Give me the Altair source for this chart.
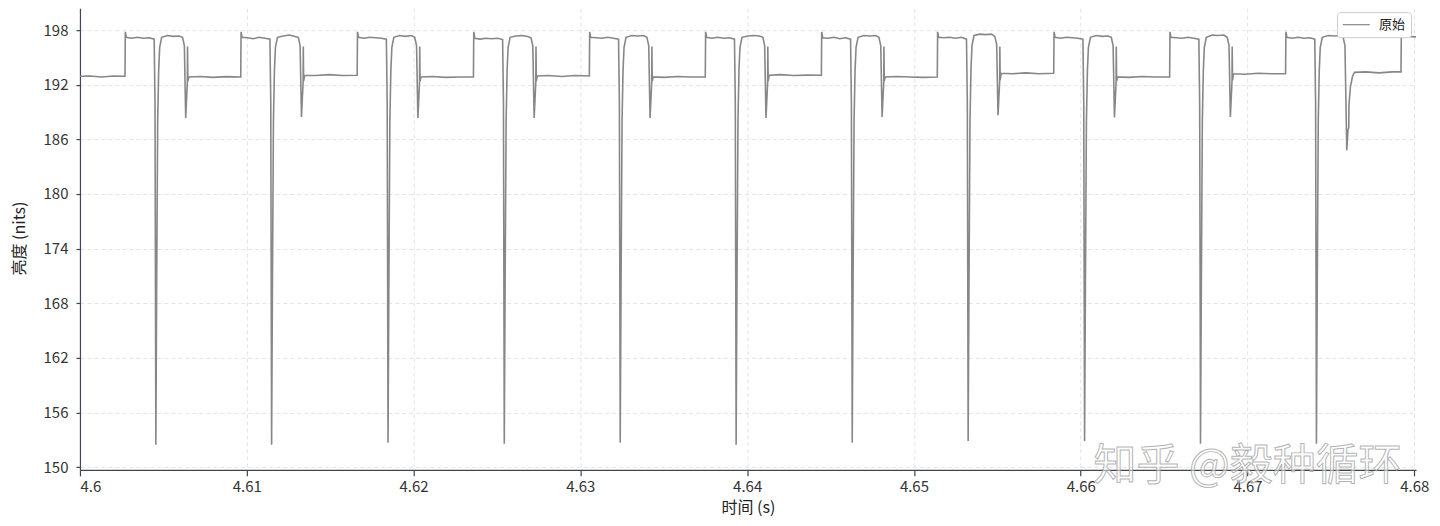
import altair as alt
import pandas as pd

series_name = "原始"
watermark = "知乎 @毅种循环"
x_ticks = [4.6, 4.61, 4.62, 4.63, 4.64, 4.65, 4.66, 4.67, 4.68]
y_ticks = [150, 156, 162, 168, 174, 180, 186, 192, 198]

# time in ms after 4.6 s, brightness in nits
seg_ms = [0.00, 0.60, 1.30, 2.00]
seg_v = [192.92, 192.95, 192.85, 192.95]

c0_ms = [2.70, 2.72, 2.78, 3.10, 3.45, 3.80, 4.15, 4.45, 4.50, 4.55, 4.60, 4.66, 4.72, 4.78, 4.90, 5.25, 5.60, 5.95, 6.15, 6.26, 6.34, 6.44, 6.45, 6.47, 6.53, 7.20, 8.00, 8.80]
c0_v = [192.92, 197.8, 197.2, 197.1, 197.2, 197.1, 197.15, 197.0, 190.0, 152.45, 170.0, 188.0, 193.6, 196.1, 197.2, 197.4, 197.3, 197.35, 197.2, 196.3, 188.35, 192.3, 196.2, 192.4, 192.85, 192.9, 192.8, 192.88]

c1_ms = [9.64, 9.66, 9.72, 10.04, 10.39, 10.74, 11.09, 11.39, 11.44, 11.49, 11.54, 11.60, 11.66, 11.72, 11.84, 12.19, 12.54, 12.89, 13.09, 13.20, 13.28, 13.38, 13.39, 13.41, 13.47, 14.14, 14.94, 15.74]
c1_v = [192.85, 197.8, 197.2, 197.15, 197.05, 197.2, 197.1, 197.0, 190.0, 152.45, 170.0, 188.0, 193.6, 196.1, 197.2, 197.35, 197.45, 197.3, 197.2, 196.3, 188.45, 192.3, 196.2, 192.4, 193.03, 193.0, 193.1, 193.0]

c2_ms = [16.62, 16.64, 16.70, 17.02, 17.37, 17.72, 18.07, 18.37, 18.42, 18.47, 18.52, 18.58, 18.64, 18.70, 18.82, 19.17, 19.52, 19.87, 20.07, 20.18, 20.26, 20.36, 20.37, 20.39, 20.45, 21.12, 21.92, 22.72]
c2_v = [193.03, 197.8, 197.2, 197.1, 197.2, 197.15, 197.1, 197.0, 190.0, 152.67, 170.0, 188.0, 193.6, 196.1, 197.2, 197.4, 197.3, 197.4, 197.2, 196.3, 188.35, 192.3, 196.2, 192.4, 192.85, 192.9, 192.8, 192.85]

c3_ms = [23.59, 23.61, 23.67, 23.99, 24.34, 24.69, 25.04, 25.34, 25.39, 25.44, 25.49, 25.55, 25.61, 25.67, 25.79, 26.14, 26.49, 26.84, 27.04, 27.15, 27.23, 27.33, 27.34, 27.36, 27.42, 28.09, 28.89, 29.69]
c3_v = [192.85, 197.8, 197.1, 197.0, 197.1, 197.05, 197.1, 196.95, 190.0, 152.56, 170.0, 188.0, 193.6, 196.1, 197.2, 197.35, 197.4, 197.3, 197.15, 196.3, 188.35, 192.3, 196.2, 192.4, 192.96, 193.0, 192.9, 193.0]

c4_ms = [30.54, 30.56, 30.62, 30.94, 31.29, 31.64, 31.99, 32.29, 32.34, 32.39, 32.44, 32.50, 32.56, 32.62, 32.74, 33.09, 33.44, 33.79, 33.99, 34.10, 34.18, 34.28, 34.29, 34.31, 34.37, 35.04, 35.84, 36.64]
c4_v = [192.96, 197.8, 197.2, 197.15, 197.1, 197.2, 197.1, 197.0, 190.0, 152.67, 170.0, 188.0, 193.6, 196.1, 197.2, 197.4, 197.35, 197.4, 197.2, 196.3, 188.35, 192.3, 196.2, 192.4, 192.85, 192.8, 192.9, 192.85]

c5_ms = [37.49, 37.51, 37.57, 37.89, 38.24, 38.59, 38.94, 39.24, 39.29, 39.34, 39.39, 39.45, 39.51, 39.57, 39.69, 40.04, 40.39, 40.74, 40.94, 41.05, 41.13, 41.23, 41.24, 41.26, 41.32, 41.99, 42.79, 43.59]
c5_v = [192.85, 197.8, 197.2, 197.1, 197.2, 197.1, 197.15, 197.0, 190.0, 152.45, 170.0, 188.0, 193.6, 196.1, 197.2, 197.35, 197.4, 197.35, 197.2, 196.3, 188.35, 192.3, 196.2, 192.4, 193.03, 193.1, 193.0, 193.05]

c6_ms = [44.45, 44.47, 44.53, 44.85, 45.20, 45.55, 45.90, 46.20, 46.25, 46.30, 46.35, 46.41, 46.47, 46.53, 46.65, 47.00, 47.35, 47.70, 47.90, 48.01, 48.09, 48.19, 48.20, 48.22, 48.28, 48.95, 49.75, 50.55]
c6_v = [193.03, 197.8, 197.15, 197.1, 197.2, 197.05, 197.15, 197.0, 190.0, 152.67, 170.0, 188.0, 193.6, 196.1, 197.2, 197.4, 197.35, 197.4, 197.2, 196.3, 188.45, 192.3, 196.2, 192.4, 192.85, 192.9, 192.85, 192.8]

c7_ms = [51.40, 51.42, 51.48, 51.80, 52.15, 52.50, 52.85, 53.15, 53.20, 53.25, 53.30, 53.36, 53.42, 53.48, 53.60, 53.95, 54.30, 54.65, 54.85, 54.96, 55.04, 55.14, 55.15, 55.17, 55.23, 55.90, 56.70, 57.50]
c7_v = [192.85, 197.8, 197.2, 197.15, 197.2, 197.1, 197.2, 197.0, 190.0, 152.88, 170.0, 188.0, 193.7, 196.3, 197.4, 197.55, 197.5, 197.55, 197.3, 196.4, 188.64, 192.4, 196.2, 192.5, 193.25, 193.2, 193.3, 193.2]

c8_ms = [58.38, 58.40, 58.46, 58.78, 59.13, 59.48, 59.83, 60.13, 60.18, 60.23, 60.28, 60.34, 60.40, 60.46, 60.58, 60.93, 61.28, 61.63, 61.83, 61.94, 62.02, 62.12, 62.13, 62.15, 62.21, 62.88, 63.68, 64.48]
c8_v = [193.25, 197.8, 197.2, 197.1, 197.2, 197.15, 197.1, 197.0, 190.0, 152.88, 170.0, 188.0, 193.6, 196.1, 197.2, 197.4, 197.3, 197.35, 197.2, 196.3, 188.4, 192.3, 196.2, 192.4, 192.85, 192.8, 192.9, 192.85]

c9_ms = [65.33, 65.35, 65.41, 65.73, 66.08, 66.43, 66.78, 67.08, 67.13, 67.18, 67.23, 67.29, 67.35, 67.41, 67.53, 67.88, 68.23, 68.58, 68.78, 68.89, 68.97, 69.07, 69.08, 69.10, 69.16, 69.83, 70.63, 71.43]
c9_v = [192.85, 197.8, 197.2, 197.15, 197.1, 197.2, 197.1, 197.0, 190.0, 152.56, 170.0, 188.0, 193.6, 196.1, 197.2, 197.45, 197.4, 197.45, 197.2, 196.3, 188.45, 192.4, 196.2, 192.5, 193.2, 193.15, 193.25, 193.2]

c10_ms = [72.28, 72.30, 72.36, 72.68, 73.03, 73.38, 73.73, 74.03, 74.08, 74.13, 74.18, 74.24, 74.30, 74.36, 74.48, 74.83, 75.18, 75.53, 75.73, 75.84, 75.95, 76.02, 76.07, 76.08, 76.17, 76.29, 76.41, 77.08, 77.88, 78.68]
c10_v = [193.2, 197.8, 197.2, 197.1, 197.2, 197.1, 197.15, 197.0, 190.0, 152.56, 170.0, 188.0, 193.6, 196.1, 197.2, 197.4, 197.35, 197.4, 197.2, 196.3, 184.8, 187.0, 187.3, 189.8, 191.8, 192.9, 193.35, 193.4, 193.3, 193.4]

c11_ms = [79.20, 79.22, 79.28, 79.60, 80.10]
c11_v = [193.4, 197.8, 197.25, 197.3, 197.25]

all_ms = seg_ms + c0_ms + c1_ms + c2_ms + c3_ms + c4_ms + c5_ms + c6_ms + c7_ms + c8_ms + c9_ms + c10_ms + c11_ms
all_v = seg_v + c0_v + c1_v + c2_v + c3_v + c4_v + c5_v + c6_v + c7_v + c8_v + c9_v + c10_v + c11_v

df = pd.DataFrame({
    "time": [4.6 + m / 1000.0 for m in all_ms],
    "nits": all_v,
    "series": [series_name] * len(all_ms),
    "order": list(range(len(all_ms))),
})

FONT = "Noto Sans CJK SC"
AXIS_COLOR = "#3d4653"

x_enc = alt.X(
    "time:Q",
    scale=alt.Scale(domain=[4.6, 4.6801], nice=False, zero=False),
    axis=alt.Axis(
        values=x_ticks, format="~g", title="时间 (s)",
        grid=True, gridColor="#e4e4e4", gridDash=[4, 3], gridWidth=1,
        domainColor=AXIS_COLOR, domainWidth=1.2,
        tickColor=AXIS_COLOR, tickSize=6, tickWidth=1.2,
        labelFontSize=15, labelColor="#333333", labelPadding=4, labelFont=FONT,
        titleFontSize=16, titleFontWeight="normal", titleColor="#222222", titleFont=FONT,
        titleY=38, titleBaseline="middle",
    ),
)
y_enc = alt.Y(
    "nits:Q",
    scale=alt.Scale(domain=[149.7, 200.4], nice=False, zero=False),
    axis=alt.Axis(
        values=y_ticks, format="d", title="亮度 (nits)",
        grid=True, gridColor="#e4e4e4", gridDash=[4, 3], gridWidth=1,
        domainColor=AXIS_COLOR, domainWidth=1.2,
        tickColor=AXIS_COLOR, tickSize=4, tickWidth=1.2,
        labelFontSize=15, labelColor="#333333", labelPadding=8, labelFont=FONT,
        titleFontSize=16, titleFontWeight="normal", titleColor="#222222", titleFont=FONT,
        titleX=-60, titleY=230, titleAlign="center", titleBaseline="middle", titleAngle=270,
    ),
)

line = alt.Chart(df).mark_line(strokeWidth=1.6, clip=True).encode(
    x=x_enc,
    y=y_enc,
    order="order:Q",
    color=alt.Color(
        "series:N",
        scale=alt.Scale(domain=[series_name], range=["#878787"]),
        legend=alt.Legend(
            orient="none", legendX=1258, legendY=4, title=None,
            padding=5, strokeColor="#cccccc", fillColor="#ffffff", cornerRadius=3,
            symbolType="M-1,0H3", symbolSize=182, symbolStrokeWidth=1.2,
            labelFontSize=13, labelColor="#222222", labelFont=FONT, labelOffset=22,
        ),
    ),
)

mark = alt.Chart(pd.DataFrame({"t": [watermark]})).mark_text(
    fontSize=43, font=FONT, fill="#ffffff", fillOpacity=0.5,
    stroke="#9a9a9a", strokeWidth=1, strokeOpacity=0.75,
    align="center", baseline="middle",
).encode(
    x=alt.datum(4.670),
    y=alt.datum(150),
    text="t:N",
)

chart = alt.layer(line, mark).properties(
    width=1337,
    height=462,
    padding={"left": 72, "top": 0, "right": 16, "bottom": 48},
    autosize=alt.AutoSizeParams(type="none"),
).configure(font=FONT).configure_view(stroke=None)

chart.save("out.html", embed_options={"renderer": "svg", "actions": False})
